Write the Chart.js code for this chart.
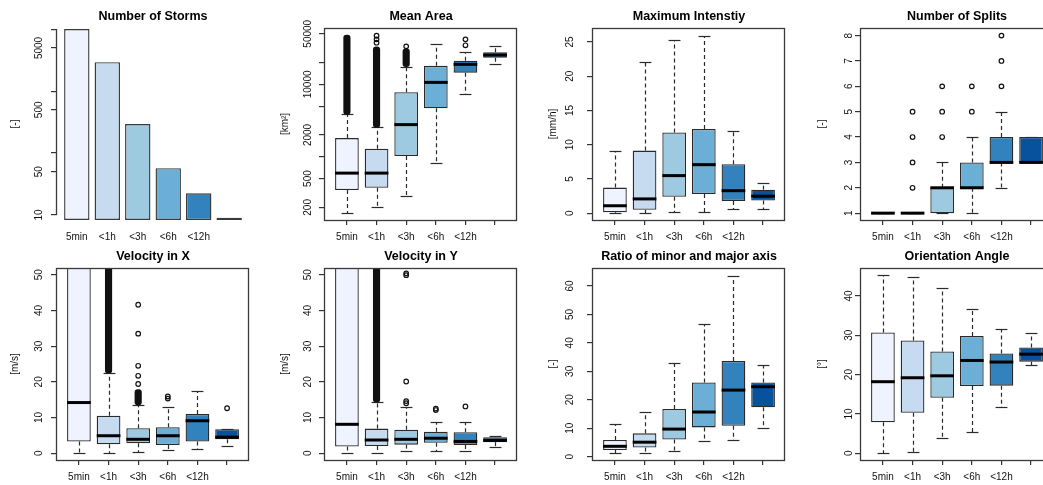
<!DOCTYPE html>
<html>
<head>
<meta charset="utf-8">
<script src="https://cdn.jsdelivr.net/npm/chart.js@4.4.0/dist/chart.umd.min.js"></script>
<style>
  body { margin: 0; background: #fff; }
  #wrap { position: relative; width: 1043px; height: 485px; overflow: hidden; background: #fff; }
  #wrap canvas { position: absolute; }
</style>
</head>
<body>
<div id="wrap"></div>
<script>
// categories + palette (RColorBrewer Blues, 6 classes)
const durations = ['5min', '<1h', '<3h', '<6h', '<12h', ''];
const blues = ['#eff3ff', '#c6dbef', '#9ecae1', '#6baed6', '#3182bd', '#08519c'];

// Number of Storms [-]
const stormCounts = [10100, 2950, 295, 57, 22.4, 9];
const stormTicks = [10, 50, 100, 500, 1000, 5000, 10000];
const stormTickLabels = ['10', '50', '', '500', '', '5000', ''];

// Mean Area [km2]
const areaLow = [165, 200, 286, 826, 7350, 18900];
const areaQ1 = [347, 373, 1023, 4660, 14500, 23300];
const areaMed = [595, 595, 2780, 10650, 18900, 25400];
const areaQ3 = [1810, 1290, 7800, 18000, 21200, 27700];
const areaHigh = [3850, 2545, 17500, 36100, 27700, 34100];
const areaOut = [[], [37600, 41800, 46900], [33500], [], [34600, 41800], []];
const areaDense = [[3850, 48000], [2545, 33000], [17500, 31000], null, null, null];
const areaTicks = [200, 500, 1000, 2000, 5000, 10000, 20000, 50000];
const areaTickLabels = ['200', '500', '', '2000', '', '10000', '', '50000'];

// Maximum Intensity [mm/h]
const intLow = [0, 0, 0.15, 0.15, 0.6, 0.6];
const intQ1 = [0.15, 0.5, 2.4, 2.8, 1.8, 1.85];
const intMed = [1.1, 2.1, 5.5, 7.1, 3.3, 2.5];
const intQ3 = [3.75, 9.15, 11.8, 12.3, 7.15, 3.45];
const intHigh = [9.1, 22.1, 25.35, 25.9, 12.0, 4.4];
const intTicks = [0, 5, 10, 15, 20, 25];

// Number of Splits [-]
const splitLow = [1, 1, 1, 1, 2, 3];
const splitQ1 = [1, 1, 1, 2, 3, 3];
const splitMed = [1, 1, 2, 2, 3, 3];
const splitQ3 = [1, 1, 2, 3, 4, 4];
const splitHigh = [1, 1, 3, 4, 5, 4];
const splitOut = [[], [2, 3, 4, 5], [4, 5, 6], [5, 6], [6, 7, 8], []];
const splitTicks = [1, 2, 3, 4, 5, 6, 7, 8];

// Velocity in X [m/s]  (5min box runs off the top)
const vxLow = [0, 0, 0.45, 0.85, 1.2, 1.9];
const vxQ1 = [3.3, 2.5, 2.8, 2.3, 3.3, 3.9];
const vxMed = [14.2, 4.9, 3.9, 4.9, 9.1, 4.5];
const vxQ3 = [60, 10.5, 7.0, 7.3, 11.0, 6.7];
const vxHigh = [null, 22.4, 13.5, 12.9, 17.5, 6.7];
const vxOut = [[], [], [19.4, 21.7, 24.5, 33.5, 41.6], [15.3, 15.9], [], [12.6]];
const vxDense = [null, [22.4, 60], [13.5, 17.8], null, null, null];

// Velocity in Y [m/s]
const vyLow = [0, 0, 0.55, 0.55, 0.55, 1.7];
const vyQ1 = [1.9, 2.0, 2.4, 2.9, 2.3, 3.1];
const vyMed = [8.1, 3.7, 3.9, 4.2, 3.3, 3.6];
const vyQ3 = [60, 6.9, 6.6, 6.0, 5.9, 4.5];
const vyHigh = [null, 14.3, 12.9, 8.8, 8.8, 4.9];
const vyOut = [[], [], [14.0, 14.6, 20.1, 49.9, 50.4], [12.1, 12.5], [13.1], []];
const vyDense = [null, [14.3, 60], null, null, null, null];
const velTicks = [0, 10, 20, 30, 40, 50];

// Ratio of minor and major axis [-]
const ratioLow = [1.2, 1.2, 2.1, 5.5, 6.0, 10.0];
const ratioQ1 = [2.35, 3.2, 6.0, 10.3, 10.9, 17.4];
const ratioMed = [3.65, 5.1, 9.7, 15.7, 23.4, 24.6];
const ratioQ3 = [5.9, 8.2, 16.8, 26.1, 33.6, 26.1];
const ratioHigh = [11.6, 15.6, 33.0, 46.6, 63.6, 32.2];
const ratioTicks = [0, 10, 20, 30, 40, 50, 60];

// Orientation Angle [°]
const angLow = [0, 0.25, 3.8, 5.5, 11.7, 22.5];
const angQ1 = [7.9, 10.3, 14.1, 17.1, 17.2, 23.3];
const angMed = [18.2, 19.2, 19.7, 23.6, 23.2, 25.2];
const angQ3 = [30.7, 28.7, 25.9, 29.8, 25.4, 26.9];
const angHigh = [45.2, 44.9, 41.9, 36.7, 31.7, 30.7];
const angTicks = [0, 10, 20, 30, 40];

const FONT = '"Liberation Sans", Arial, Helvetica, sans-serif';
Chart.defaults.font.family = FONT;
Chart.defaults.font.size = 10;
Chart.defaults.color = '#111';

const LINE = '#2a2a2a';

// per column offsets of the rotated y labels (measured from the frame)
const tickLabelOff = [18, 17, 22.5, 11.5];
const yTitleOff = [42, 40, 39.5, 38.5];

function drawYText(ctx, text, x, y) {
  ctx.save();
  ctx.translate(x, y);
  ctx.rotate(-Math.PI / 2);
  ctx.textAlign = 'center';
  ctx.textBaseline = 'middle';
  ctx.fillText(text, 0, 0);
  ctx.restore();
}

// R-like decorations: whiskers, medians, frame, rotated y labels
function decorations(p) {
  return {
    id: 'rDecor',
    beforeDatasetsDraw(chart) {
      if (!p.q1) return;
      const {ctx, chartArea: a, scales: {x, y}} = chart;
      const meta = chart.getDatasetMeta(chart.data.datasets.findIndex(d => d.label === 'box'));
      ctx.save();
      ctx.beginPath();
      ctx.rect(a.left, a.top, a.right - a.left, a.bottom - a.top);
      ctx.clip();
      ctx.strokeStyle = LINE;
      ctx.lineWidth = 1.2;
      p.q1.forEach((q1, i) => {
        const cx = Math.round(x.getPixelForValue(i + 1)) + 0.5;
        const half = meta.data[i].width / 4;
        const ends = [[p.q1[i], p.low[i]], [p.q3[i], p.high[i]]];
        ends.forEach(([from, to]) => {
          if (to === null || to === undefined) return;
          const y0 = y.getPixelForValue(from);
          const y1 = Math.round(y.getPixelForValue(to)) + 0.5;
          ctx.setLineDash([4, 3]);
          ctx.beginPath();
          ctx.moveTo(cx, y0);
          ctx.lineTo(cx, y1);
          ctx.stroke();
          ctx.setLineDash([]);
          ctx.beginPath();
          ctx.moveTo(cx - half, y1);
          ctx.lineTo(cx + half, y1);
          ctx.stroke();
        });
      });
      ctx.restore();
    },
    afterDatasetsDraw(chart) {
      if (!p.med) return;
      const {ctx, scales: {x, y}} = chart;
      const meta = chart.getDatasetMeta(chart.data.datasets.findIndex(d => d.label === 'box'));
      ctx.save();
      ctx.strokeStyle = '#000';
      ctx.lineWidth = 3;
      p.med.forEach((m, i) => {
        const cx = x.getPixelForValue(i + 1);
        const w = meta.data[i].width;
        const my = y.getPixelForValue(m);
        ctx.beginPath();
        ctx.moveTo(cx - w / 2, my);
        ctx.lineTo(cx + w / 2, my);
        ctx.stroke();
      });
      ctx.restore();
    },
    afterDraw(chart) {
      const {ctx, chartArea: a, scales: {y}} = chart;
      ctx.save();
      ctx.strokeStyle = '#3a3a3a';
      ctx.lineWidth = 1.3;
      const lx = Math.round(a.left) - 0.5;
      if (p.frame) {
        ctx.strokeRect(lx, Math.round(a.top) + 0.5, Math.round(a.right - a.left), Math.round(a.bottom - a.top));
      } else {
        ctx.beginPath();
        ctx.moveTo(lx, y.getPixelForValue(p.ticks[0]));
        ctx.lineTo(lx, y.getPixelForValue(p.ticks[p.ticks.length - 1]));
        ctx.stroke();
      }
      ctx.fillStyle = '#111';
      ctx.font = '10px ' + FONT;
      p.ticks.forEach((v, i) => {
        const lab = p.tickLabels ? p.tickLabels[i] : String(v);
        if (lab) drawYText(ctx, lab, a.left - tickLabelOff[p.col], y.getPixelForValue(v));
      });
      drawYText(ctx, p.yTitle, a.left - yTitleOff[p.col], (a.top + a.bottom) / 2);
      ctx.restore();
    }
  };
}

function baseOptions(p, xMin, xMax, xTicks, tickColor) {
  return {
    responsive: false,
    animation: false,
    events: [],
    layout: { padding: { left: 0, right: 19, top: 0, bottom: 0 } },
    plugins: {
      legend: { display: false },
      tooltip: { enabled: false },
      title: {
        display: true, text: p.title, fullSize: false, color: '#000',
        font: { size: 12.5, weight: 'bold', lineHeight: 1.2 },
        padding: { top: 9.5, bottom: 3.5 }
      }
    },
    scales: {
      x: {
        type: 'linear', min: xMin, max: xMax, offset: false, bounds: 'data',
        afterBuildTicks: s => { s.ticks = xTicks.map(v => ({ value: v })); },
        afterFit: s => { s.height = 25; },
        grid: { offset: false, drawOnChartArea: false, drawTicks: true, tickLength: 5, color: tickColor, lineWidth: 1.2 },
        border: { display: false },
        ticks: { callback: (v, i) => durations[i], autoSkip: false, maxRotation: 0, padding: 6.5, color: '#111', font: { size: 10 } }
      },
      y: {
        type: p.log ? 'logarithmic' : 'linear', min: p.min, max: p.max, bounds: 'data',
        afterBuildTicks: s => { s.ticks = p.ticks.map(v => ({ value: v })); },
        afterFit: s => { s.width = 57; },
        grid: { drawOnChartArea: false, drawTicks: true, tickLength: 6, color: '#333', lineWidth: 1.2 },
        border: { display: false },
        ticks: { display: false }
      }
    }
  };
}

function boxPanel(p) {
  const xs = durations.map((_, i) => i + 1);
  const boxes = xs.map((x, i) => ({ x, y: [p.q1[i], p.q3[i]] }));
  const bands = [];
  (p.dense || []).forEach((d, i) => { if (d) bands.push({ x: i + 1, y: d }); });
  const outs = [];
  (p.out || []).forEach((list, i) => list.forEach(v => outs.push({ x: i + 1, y: v })));
  p.frame = true;
  return {
    type: 'bar',
    data: {
      datasets: [
        { type: 'scatter', label: 'out', data: outs, order: 0, pointStyle: 'circle', radius: 2.3,
          borderWidth: 1.2, borderColor: '#111', backgroundColor: 'rgba(0,0,0,0)' },
        { label: 'dense', data: bands, order: 1, grouped: false, barThickness: 6.5,
          backgroundColor: '#111', borderRadius: 3, borderSkipped: false },
        { label: 'box', data: boxes, order: 2, grouped: false, backgroundColor: blues,
          borderColor: LINE, borderWidth: 1.3, borderSkipped: false,
          barPercentage: 0.8, categoryPercentage: 1 }
      ]
    },
    options: baseOptions(p, 0.26, 6.74, xs, '#333'),
    plugins: [decorations(p)]
  };
}

function stormPanel(p) {
  const xs = durations.map((_, i) => 0.7 + 1.2 * i);
  p.frame = false;
  return {
    type: 'bar',
    data: {
      datasets: [{
        label: 'storms', data: xs.map((x, i) => ({ x, y: stormCounts[i] })),
        backgroundColor: blues, borderColor: '#3a3a3a', borderWidth: 1.4, borderSkipped: false,
        barPercentage: 1 / 1.2, categoryPercentage: 1
      }]
    },
    options: baseOptions(p, -0.08, 7.48, xs, 'rgba(0,0,0,0)'),
    plugins: [decorations(p)]
  };
}

function addPanel(col, row, cfg) {
  const c = document.createElement('canvas');
  c.width = 268; c.height = 245;
  c.style.left = (col * 268) + 'px';
  c.style.top = (row * 240) + 'px';
  document.getElementById('wrap').appendChild(c);
  new Chart(c, cfg);
}

addPanel(0, 0, stormPanel({ col: 0, title: 'Number of Storms', yTitle: '[-]', log: true,
  min: 8.3, max: 10500, ticks: stormTicks, tickLabels: stormTickLabels }));

addPanel(1, 0, boxPanel({ col: 1, title: 'Mean Area', yTitle: '[km²]', log: true, min: 134, max: 60000,
  ticks: areaTicks, tickLabels: areaTickLabels,
  low: areaLow, q1: areaQ1, med: areaMed, q3: areaQ3, high: areaHigh, out: areaOut, dense: areaDense }));

addPanel(2, 0, boxPanel({ col: 2, title: 'Maximum Intenstiy', yTitle: '[mm/h]', min: -0.98, max: 27.05,
  ticks: intTicks, low: intLow, q1: intQ1, med: intMed, q3: intQ3, high: intHigh }));

addPanel(3, 0, boxPanel({ col: 3, title: 'Number of Splits', yTitle: '[-]', min: 0.73, max: 8.3,
  ticks: splitTicks, low: splitLow, q1: splitQ1, med: splitMed, q3: splitQ3, high: splitHigh, out: splitOut }));

addPanel(0, 1, boxPanel({ col: 0, title: 'Velocity in X', yTitle: '[m/s]', min: -1.9, max: 51.9,
  ticks: velTicks, low: vxLow, q1: vxQ1, med: vxMed, q3: vxQ3, high: vxHigh, out: vxOut, dense: vxDense }));

addPanel(1, 1, boxPanel({ col: 1, title: 'Velocity in Y', yTitle: '[m/s]', min: -1.9, max: 51.9,
  ticks: velTicks, low: vyLow, q1: vyQ1, med: vyMed, q3: vyQ3, high: vyHigh, out: vyOut, dense: vyDense }));

addPanel(2, 1, boxPanel({ col: 2, title: 'Ratio of minor and major axis', yTitle: '[-]', min: -1.16, max: 66.3,
  ticks: ratioTicks, low: ratioLow, q1: ratioQ1, med: ratioMed, q3: ratioQ3, high: ratioHigh }));

addPanel(3, 1, boxPanel({ col: 3, title: 'Orientation Angle', yTitle: '[°]', min: -1.7, max: 47.1,
  ticks: angTicks, low: angLow, q1: angQ1, med: angMed, q3: angQ3, high: angHigh }));
</script>
</body>
</html>
